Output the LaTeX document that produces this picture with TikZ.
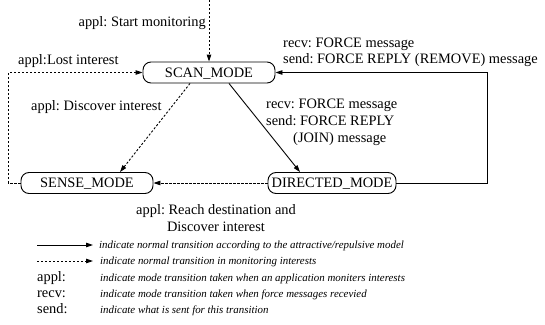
\documentclass[tikz,border=0pt]{standalone}
\usepackage{fontspec}
\setmainfont{Liberation Serif}
\usetikzlibrary{arrows.meta,calc}
\frenchspacing
\begin{document}
\begin{tikzpicture}[x=1pt,y=-1pt,
  every node/.style={font=\fontsize{14.4}{17}\selectfont, inner sep=0pt},
  mode/.style={draw, line width=0.9pt, rounded corners=8pt, minimum height=21pt, text depth=0pt},
  tr/.style={line width=0.9pt, -{Triangle[length=7pt,width=4.5pt]}},
  mon/.style={tr, dash pattern=on 2.2pt off 1.8pt},
  lbl/.style={anchor=base west},
  leg/.style={anchor=base west, font=\fontsize{10.9}{12}\selectfont\itshape}]
\useasboundingbox (0,0) rectangle (545,324);
\node[mode, minimum width=132pt] (scan) at (209,72.5) {SCAN\_MODE};
\node[mode, minimum width=132pt] (sense) at (87,183) {SENSE\_MODE};
\node[mode, minimum width=128pt] (dir) at (332,183) {DIRECTED\_MODE};
\coordinate (top) at (209,0);
% transitions
\draw[mon] (top) -- (scan.north);
\draw[mon] (sense.west) -- ++(-12,0) |- (scan.west);
\draw[mon] ([xshift=-19pt]scan.south) -- ([xshift=33pt]sense.north);
\draw[tr] ([xshift=20pt]scan.south) -- ([xshift=-32pt]dir.north);
\draw[tr] (dir.east) -- ++(91,0) |- (scan.east);
\draw[mon] (dir.west) -- (sense.east);
% labels
\node[anchor=base east] (l1) at (206,26) {appl: Start monitoring};
\node[lbl] (l2) at (18,64) {appl:Lost interest};
\node[lbl] (l3) at (31,110) {appl: Discover interest};
\node[lbl, align=left, font=\fontsize{14.4}{16}\selectfont] (l4) at (283,63) {recv: FORCE message\\send: FORCE REPLY (REMOVE) message};
\node[lbl, align=left] (l5) at (266,142) {recv: FORCE message\\send: FORCE REPLY\\\hspace*{27pt}(JOIN) message};
\node[anchor=base, align=center] (l6) at (216,231) {appl: Reach destination and\\Discover interest};
% legend
\coordinate (a1) at (37,245);
\coordinate (a2) at (93,245);
\coordinate (b1) at (37,261);
\coordinate (b2) at (93,261);
\draw[tr] (a1) -- (a2);
\draw[mon] (b1) -- (b2);
\node[leg] (t1) at (99,248.5) {indicate normal transition according to the attractive/repulsive model};
\node[leg] (t2) at (100,264.5) {indicate normal transition in monitoring interests};
\node[lbl] (k1) at (37,281) {appl:};
\node[leg] (t3) at (100,281) {indicate mode transition taken when an application moniters interests};
\node[lbl] (k2) at (37,297) {recv:};
\node[leg] (t4) at (100,297) {indicate mode transition taken when force messages recevied};
\node[lbl] (k3) at (37,313) {send:};
\node[leg] (t5) at (100,313) {indicate what is sent for this transition};
\end{tikzpicture}
\end{document}
